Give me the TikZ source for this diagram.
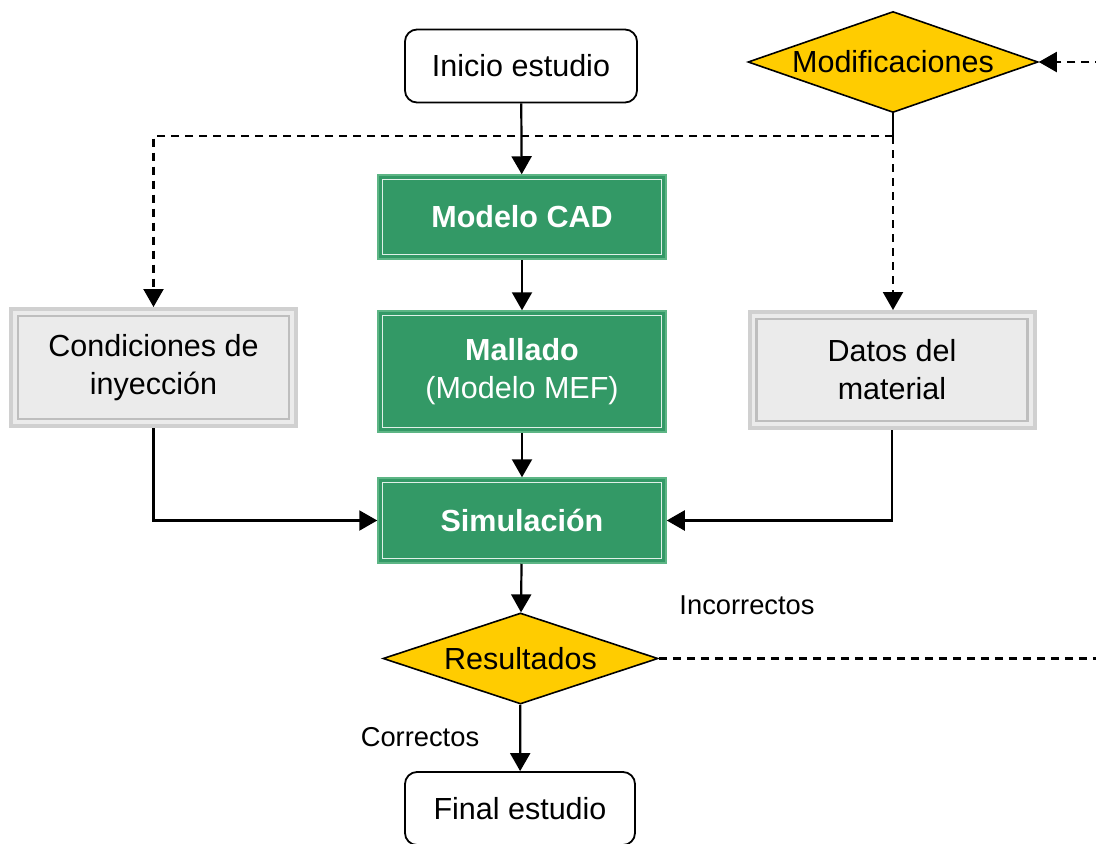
\documentclass[tikz,border=0pt]{standalone}
\usepackage{fontspec}
\setmainfont{Liberation Sans}
\usetikzlibrary{shapes.geometric,arrows.meta}
\definecolor{grn}{HTML}{339966}
\definecolor{grnedge}{HTML}{5DB585}
\definecolor{ylw}{HTML}{FFCC00}
\definecolor{gfill}{HTML}{EBEBEB}
\definecolor{gedge}{HTML}{D0D0D0}
\definecolor{ginner}{HTML}{BEBEBE}
\begin{document}
\begin{tikzpicture}[x=1pt,y=-1pt,
  txt/.style={font=\fontsize{30.5}{38}\selectfont, align=center, inner sep=0pt},
  term/.style={txt, draw=black, line width=1.8pt, rounded corners=12pt, fill=white},
  greenbox/.style={txt, fill=grn, draw=grnedge, line width=1.5pt, text=white,
    minimum width=288pt,
    path picture={\draw[white!85!grn, line width=1pt]
      ([xshift=4.5pt,yshift=4.5pt]path picture bounding box.south west) rectangle
      ([xshift=-4.5pt,yshift=-4.5pt]path picture bounding box.north east);}},
  graybox/.style={txt, fill=gfill, draw=gedge, line width=4pt, minimum width=285pt,
    path picture={\draw[ginner, line width=2.6pt]
      ([xshift=7pt,yshift=7pt]path picture bounding box.south west) rectangle
      ([xshift=-7pt,yshift=-7pt]path picture bounding box.north east);}},
  decision/.style={txt, diamond, draw=black, line width=1.6pt, fill=ylw},
  lbl/.style={font=\fontsize{27.3}{32}\selectfont, inner sep=0pt},
  conn/.style={line width=2.2pt, -{Triangle[length=18pt,width=20pt]}},
  dconn/.style={conn, dash pattern=on 8pt off 6pt}
]
\useasboundingbox (0,0) rectangle (1096,844);

\node[term, minimum width=232pt, minimum height=73pt] (ini) at (521,66) {Inicio estudio};
\node[greenbox, minimum height=84pt] (cad) at (522,217) {\bfseries Modelo CAD};
\node[greenbox, minimum height=121pt] (mal) at (522,371.5) {\bfseries Mallado\\(Modelo MEF)};
\node[greenbox, minimum height=85pt] (sim) at (522,520.5) {\bfseries Simulación};
\node[graybox, minimum height=117pt] (cond) at (153.5,367.5) {Condiciones de\\inyección};
\node[graybox, minimum height=116pt] (dat) at (892,370) {Datos del\\material};
\node[decision, minimum width=290pt, minimum height=101pt] (mod) at (893,62) {\makebox[0pt]{Modificaciones}};
\node[decision, minimum width=275pt, minimum height=91pt] (res) at (520.5,658.5) {\makebox[0pt]{Resultados}};
\node[term, minimum width=230pt, minimum height=73pt] (fin) at (520,808.5) {Final estudio};

\node[lbl] (inc) at (747,605) {Incorrectos};
\node[lbl] (cor) at (420,737) {Correctos};

\coordinate (j) at (893,136);

\draw[conn] (ini) -- (cad);
\draw[conn] (cad) -- (mal);
\draw[conn] (mal) -- (sim);
\draw[conn] (sim) -- (res);
\draw[conn] (res) -- (fin);
\draw[conn] (cond.south) |- (sim.west);
\draw[conn] (dat.south) |- (sim.east);

\draw[line width=1.8pt] (mod.south) -- (j);
\draw[dconn] (j) -| (cond.north);
\draw[dconn] (j) -- (j |- dat.north);
\draw[dconn] (res.east) -- ++(470,0) |- (mod.east);
\end{tikzpicture}
\end{document}
